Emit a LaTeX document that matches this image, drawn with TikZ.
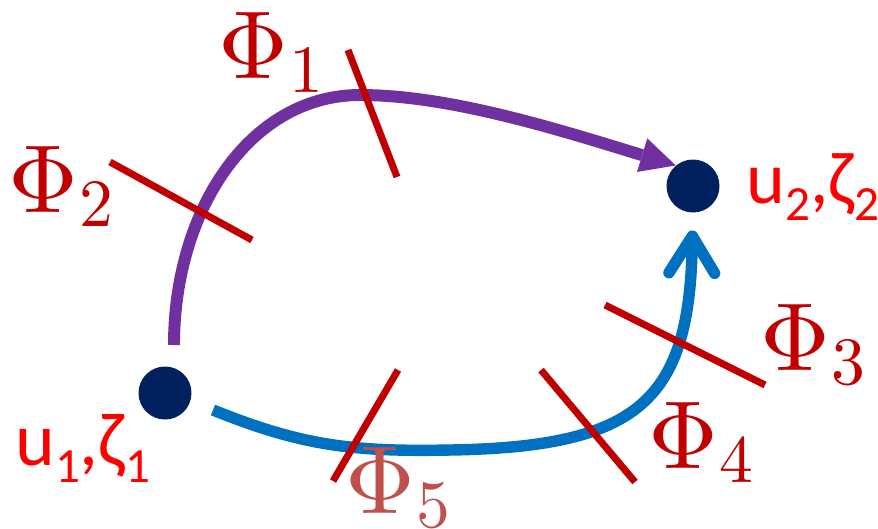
\documentclass[tikz,border=0pt]{standalone}
\usepackage{fontspec}
\usepackage{unicode-math}
\setmathfont{Latin Modern Math}
\newfontfamily\labelfont{Carlito}
\usepackage{xcolor}
\usetikzlibrary{arrows.meta}
\definecolor{dotnavy}{HTML}{002060}
\definecolor{pathpurple}{HTML}{7030A0}
\definecolor{pathblue}{HTML}{0070C0}
\definecolor{cutred}{HTML}{C00000}
\definecolor{cutfaint}{HTML}{C0504D}
\definecolor{lblred}{HTML}{FF0000}
\newcommand{\lowsub}[1]{\raisebox{-10pt}{\fontsize{28}{30}\selectfont #1}}
\newcommand{\phisub}[1]{\kern1pt\raisebox{-8pt}{$\scriptstyle #1$}}

\begin{document}
\begin{tikzpicture}[
  x=0.02cm, y=-0.02cm,
  dot/.style={circle, fill=dotnavy, inner sep=0pt, minimum size=1.06cm},
  cut/.style={draw=cutred, line width=4pt},
  phi/.style={text=cutred, inner sep=0pt, anchor=base west, font=\fontsize{55}{60}\selectfont},
  lbl/.style={text=lblred, inner sep=0pt, anchor=base west, font=\labelfont\fontsize{43}{46}\selectfont},
  upper/.style={draw=pathpurple, line width=6.8pt, -{Triangle[length=20pt, width=20pt, line width=0pt]}},
  lower/.style={draw=pathblue, line width=6.5pt, -{Straight Barb[length=21pt, width=26pt, round]}},
]
\useasboundingbox (0,0) rectangle (878,528);
\node[dot] (u1) at (165,393) {};
\node[dot] (u2) at (693,186) {};
\coordinate (upstart) at (174,345);
\coordinate (lowstart) at (213,410);
\draw[upper] (upstart) .. controls (174,210) and (250,95) .. (360,95) .. controls (450,95) and (560,130) .. (u2.130);
\draw[lower, shorten >=10pt] (lowstart) .. controls (300,445) and (350,452) .. (450,450) .. controls (640,447) and (690,400) .. (u2);
\draw[cut] (348,50) -- (397,177);
\draw[cut] (110,162) -- (252,240);
\draw[cut] (605,305) -- (765,385);
\draw[cut] (541,370) -- (635,482);
\draw[cut] (398,370) -- (333,481);
\node[phi] (phione) at (218,78) {$\Phi$\phisub{1}};
\node[phi] (phitwo) at (8,212) {$\Phi$\phisub{2}};
\node[phi] (phithree) at (760,370) {$\Phi$\phisub{3}};
\node[phi] (phifour) at (648,468) {$\Phi$\phisub{4}};
\node[phi, text=cutfaint] (phifive) at (345,513) {$\Phi$\phisub{5}};
\node[lbl] (u1lbl) at (15,465) {u\lowsub{1},ζ\lowsub{1}};
\node[lbl, font=\labelfont\fontsize{42}{46}\selectfont] (u2lbl) at (746,203) {u\lowsub{2},ζ\lowsub{2}};
\end{tikzpicture}
\end{document}
